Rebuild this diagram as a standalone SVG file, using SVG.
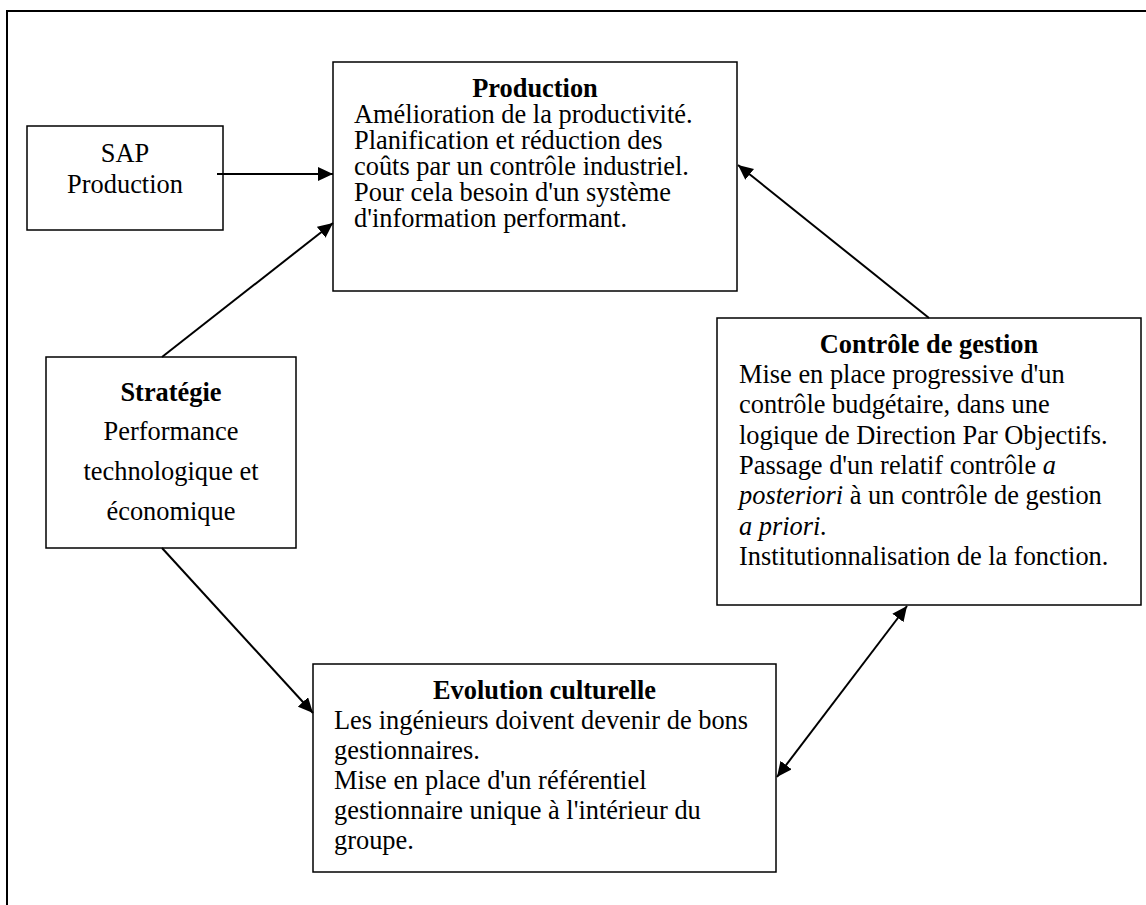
<svg xmlns="http://www.w3.org/2000/svg" width="1146" height="905" viewBox="0 0 1146 905">
<style>
.box{fill:#fff;stroke:#000;stroke-width:1.5}
.t{font-family:"Liberation Serif","Times New Roman",serif;font-size:26.4px;fill:#000}
.b{font-weight:bold}
.c{text-anchor:middle}
.i{font-style:italic}
.ln{stroke:#000;stroke-width:2;fill:none}
</style>
<defs>
<marker id="ah" markerUnits="userSpaceOnUse" markerWidth="16" markerHeight="14" refX="15" refY="7" orient="auto-start-reverse" viewBox="0 0 16 14">
<path d="M0,0 L15,7 L0,14 z" fill="#000"/>
</marker>
</defs>
<rect width="1146" height="905" fill="#fff"/>
<path d="M7,905 V11 H1146" fill="none" stroke="#000" stroke-width="2"/>

<g id="sap">
<rect class="box" x="27" y="126" width="196" height="104"/>
<text class="t c" x="125" y="162">SAP</text>
<text class="t c" x="125" y="193">Production</text>
</g>

<g id="production">
<rect class="box" x="333" y="62" width="404" height="229"/>
<text class="t b c" x="535" y="97">Production</text>
<text class="t" x="354" y="123">Amélioration de la productivité.</text>
<text class="t" x="354" y="149">Planification et réduction des</text>
<text class="t" x="354" y="175">coûts par un contrôle industriel.</text>
<text class="t" x="354" y="201">Pour cela besoin d'un système</text>
<text class="t" x="354" y="227">d'information performant.</text>
</g>

<g id="strategie">
<rect class="box" x="46" y="357" width="250" height="191"/>
<text class="t b c" x="171" y="401">Stratégie</text>
<text class="t c" x="171" y="440">Performance</text>
<text class="t c" x="171" y="480">technologique et</text>
<text class="t c" x="171" y="520">économique</text>
</g>

<g id="controle">
<rect class="box" x="717" y="318" width="424" height="287"/>
<text class="t b c" x="929" y="353">Contrôle de gestion</text>
<text class="t" x="739" y="383">Mise en place progressive d'un</text>
<text class="t" x="739" y="413">contrôle budgétaire, dans une</text>
<text class="t" x="739" y="444">logique de Direction Par Objectifs.</text>
<text class="t" x="739" y="474">Passage d'un relatif contrôle <tspan class="i">a</tspan></text>
<text class="t" x="739" y="504"><tspan class="i">posteriori</tspan> à un contrôle de gestion</text>
<text class="t" x="739" y="535"><tspan class="i">a priori.</tspan></text>
<text class="t" x="739" y="565">Institutionnalisation de la fonction.</text>
</g>

<g id="evolution">
<rect class="box" x="313" y="664" width="463" height="208"/>
<text class="t b c" x="544.5" y="699">Evolution culturelle</text>
<text class="t" x="334" y="729">Les ingénieurs doivent devenir de bons</text>
<text class="t" x="334" y="759">gestionnaires.</text>
<text class="t" x="334" y="789">Mise en place d'un référentiel</text>
<text class="t" x="334" y="819">gestionnaire unique à l'intérieur du</text>
<text class="t" x="334" y="849">groupe.</text>
</g>

<g id="connectors">
<line class="ln" x1="217" y1="174" x2="333" y2="174" marker-end="url(#ah)"/>
<line class="ln" x1="162" y1="357" x2="333" y2="223" marker-end="url(#ah)"/>
<line class="ln" x1="929" y1="318" x2="738" y2="165" marker-end="url(#ah)"/>
<line class="ln" x1="162" y1="548" x2="313" y2="713" marker-end="url(#ah)"/>
<line class="ln" x1="777" y1="777" x2="907" y2="606" marker-start="url(#ah)" marker-end="url(#ah)"/>
</g>
</svg>
